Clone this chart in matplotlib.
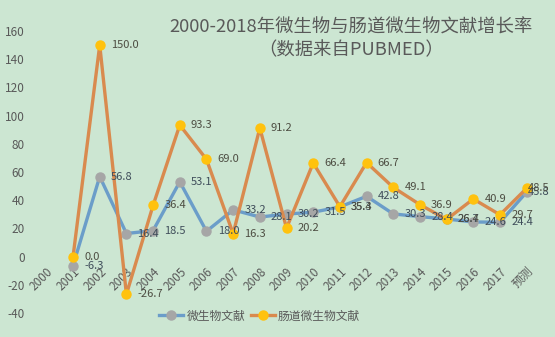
import matplotlib
matplotlib.use("Agg")
import matplotlib.pyplot as plt
import numpy as np

plt.rcParams['font.family'] = ['Noto Sans CJK SC', 'DejaVu Sans']

categories = ['2000', '2001', '2002', '2003', '2004', '2005', '2006', '2007', '2008',
              '2009', '2010', '2011', '2012', '2013', '2014', '2015', '2016', '2017', '预测']

# Annual growth rate (%), no value for the first year
micro = [np.nan, -6.3, 56.8, 16.4, 18.5, 53.1, 18.0, 33.2, 28.1,
         30.2, 31.5, 35.3, 42.8, 30.3, 28.4, 26.7, 24.6, 24.4, 45.8]
gut = [np.nan, 0.0, 150.0, -26.7, 36.4, 93.3, 69.0, 16.3, 91.2,
       20.2, 66.4, 35.4, 66.7, 49.1, 36.9, 26.4, 40.9, 29.7, 48.5]

series_names = ['微生物文献', '肠道微生物文献']
title_text = '2000-2018年微生物与肠道微生物文献增长率\n（数据来自PUBMED）'
yticks = [-40, -20, 0, 20, 40, 60, 80, 100, 120, 140, 160]

bg = '#cce6d2'
txt = '#595959'

fig = plt.figure(figsize=(5.55, 3.37), dpi=100, facecolor=bg)
ax = fig.add_axes([0.0595, 0.071, 0.9135, 0.837], facecolor=bg)

# horizontal axis sits on the zero line
ax.spines['bottom'].set_position(('data', 0))
for s in ax.spines.values():
    s.set_visible(False)

x = np.arange(len(categories))

ax.plot(x, micro, color='#6b9dc9', lw=2.4, marker='o', ms=6.5,
        mfc='#a6a6a6', mec='#a6a6a6', label=series_names[0], zorder=3)
ax.plot(x, gut, color='#d98a4e', lw=2.4, marker='o', ms=6.5,
        mfc='#ffc20e', mec='#ffc20e', label=series_names[1], zorder=4)

last = len(categories) - 1
for xi, v in zip(x, micro):
    if not np.isnan(v):
        dx = 1 if xi == last else 8
        ax.annotate(f'{v:.1f}', (xi, v), xytext=(dx, 0), textcoords='offset points',
                    ha='left', va='center', fontsize=8, color='#3f4d5a', zorder=5)
for xi, v in zip(x, gut):
    if not np.isnan(v):
        dx = 1 if xi == last else 8
        ax.annotate(f'{v:.1f}', (xi, v), xytext=(dx, 0), textcoords='offset points',
                    ha='left', va='center', fontsize=8, color='#4d4d42', zorder=6)

ax.set_xlim(-0.5, len(categories) - 0.5)
ax.set_ylim(-40, 160)
ax.set_yticks(yticks)
ax.set_yticklabels([str(t) for t in yticks], fontsize=8.5, color=txt)
ax.set_xticks(x)
ax.set_xticklabels(categories, rotation=45, ha='right', va='top',
                   rotation_mode='anchor', fontsize=8.5, color=txt)
ax.tick_params(axis='both', length=0)
ax.tick_params(axis='y', pad=6)
ax.tick_params(axis='x', pad=6)

fig.text(0.632, 0.945, title_text, ha='center', va='top', fontsize=13.2,
         color=txt, linespacing=1.3)

leg = fig.legend(loc='center', bbox_to_anchor=(0.468, 0.062), ncol=2,
                 frameon=False, fontsize=8.5, handlelength=2, columnspacing=0.5,
                 handletextpad=0.3, borderpad=0)
for t in leg.get_texts():
    t.set_color(txt)

fig.savefig('out.png', dpi=100, facecolor=bg)
